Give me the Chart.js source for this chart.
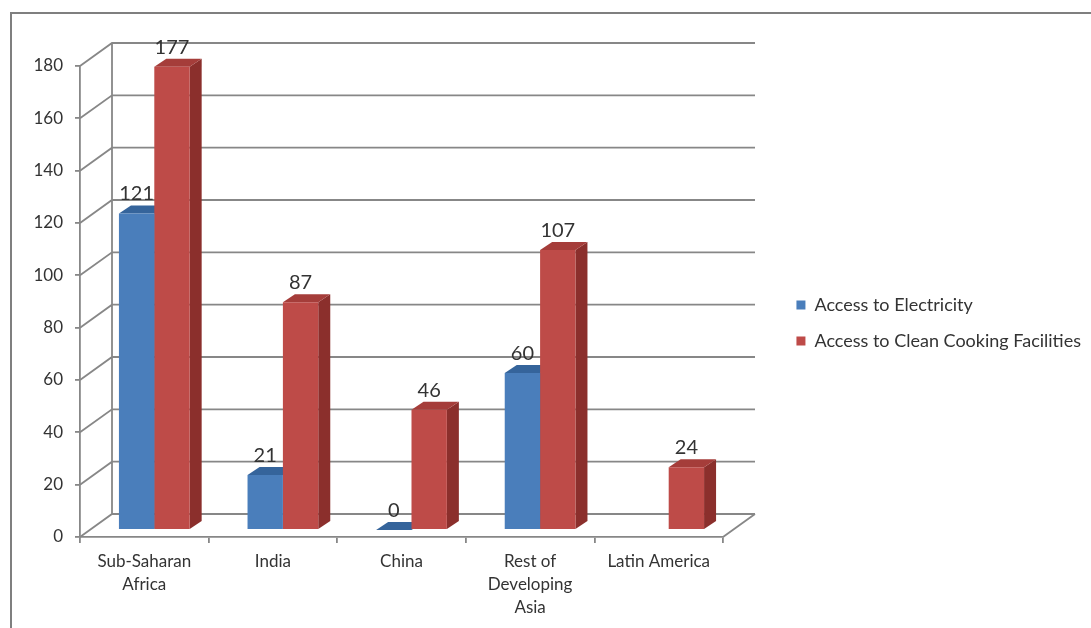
<!DOCTYPE html>
<html>
<head>
<meta charset="utf-8">
<script src="https://cdn.jsdelivr.net/npm/chart.js@4.4.1/dist/chart.umd.min.js"></script>
<style>
  html, body { margin: 0; padding: 0; background: #fff; }
  #wrap { width: 1091px; height: 628px; }
</style>
</head>
<body>
<div id="wrap"><canvas id="chart"></canvas></div>
<script>
// Data
const categories = [["Sub-Saharan", "Africa"], "India", "China", ["Rest of", "Developing", "Asia"], "Latin America"];
const electricity = [121, 21, 0, 60, null];
const cooking = [177, 87, 46, 107, 24];
const yMin = 0;
const yMax = 180;
const yStep = 20;

// 3d look
const WALL = { dx: 32, dy: -23 };
const BAR = { dx: 10, dy: -7, depthX: 12, depthY: -8 };
const gridColor = "#878787";
const textColor = "#333";
const font = "Lato";

const threeD = {
  id: "threeD",
  beforeDraw(chart) {
    const ctx = chart.ctx;
    ctx.save();
    ctx.fillStyle = "#fff";
    ctx.fillRect(0, 0, chart.width, chart.height);
    ctx.strokeStyle = "#7f7f7f";
    ctx.lineWidth = 2;
    ctx.beginPath();
    ctx.moveTo(11, chart.height);
    ctx.lineTo(11, 13);
    ctx.lineTo(chart.width, 13);
    ctx.stroke();
    ctx.restore();
  },
  beforeDatasetsDraw(chart) {
    const { ctx, chartArea: a } = chart;
    const y = chart.scales.y;
    ctx.save();
    ctx.strokeStyle = gridColor;
    ctx.lineWidth = 1.8;
    ctx.beginPath();
    y.ticks.forEach((t) => {
      const py = y.getPixelForValue(t.value);
      ctx.moveTo(a.left, py);
      ctx.lineTo(a.left + WALL.dx, py + WALL.dy);
      ctx.lineTo(a.right + WALL.dx, py + WALL.dy);
    });
    ctx.moveTo(a.left + WALL.dx, a.top + WALL.dy);
    ctx.lineTo(a.left + WALL.dx, a.bottom + WALL.dy);
    ctx.moveTo(a.right, a.bottom);
    ctx.lineTo(a.right + WALL.dx, a.bottom + WALL.dy);
    ctx.stroke();
    ctx.restore();

    // bars sit a bit back from the front plane
    ctx.save();
    ctx.translate(BAR.dx, BAR.dy);
    chart.data.datasets.forEach((ds, i) => {
      chart.getDatasetMeta(i).data.forEach((bar, j) => {
        if (ds.data[j] == null) return;
        const { x, y: top, base, width } = bar.getProps(["x", "y", "base", "width"], true);
        const l = x - width / 2;
        const r = x + width / 2;
        ctx.fillStyle = ds.sideColor;
        ctx.beginPath();
        ctx.moveTo(r, top);
        ctx.lineTo(r + BAR.depthX, top + BAR.depthY);
        ctx.lineTo(r + BAR.depthX, base + BAR.depthY);
        ctx.lineTo(r, base);
        ctx.closePath();
        ctx.fill();
        ctx.fillStyle = ds.topColor;
        ctx.beginPath();
        ctx.moveTo(l, top);
        ctx.lineTo(l + BAR.depthX, top + BAR.depthY);
        ctx.lineTo(r + BAR.depthX, top + BAR.depthY);
        ctx.lineTo(r, top);
        ctx.closePath();
        ctx.fill();
      });
    });
  },
  afterDatasetsDraw(chart) {
    const ctx = chart.ctx;
    ctx.font = `20px ${font}`;
    ctx.fillStyle = textColor;
    ctx.textAlign = "center";
    ctx.textBaseline = "alphabetic";
    chart.data.datasets.forEach((ds, i) => {
      chart.getDatasetMeta(i).data.forEach((bar, j) => {
        if (ds.data[j] == null) return;
        ctx.fillText(String(ds.data[j]), bar.x, bar.y - 13);
      });
    });
    ctx.restore();
  },
};

new Chart(document.getElementById("chart"), {
  type: "bar",
  data: {
    labels: categories,
    datasets: [
      {
        label: "Access to Electricity",
        data: electricity,
        backgroundColor: "#4a7ebb",
        sideColor: "#2f5a8c",
        topColor: "#35649b",
        clip: false,
      },
      {
        label: "Access to Clean Cooking Facilities",
        data: cooking,
        backgroundColor: "#be4b48",
        sideColor: "#8b2f2c",
        topColor: "#a53d3a",
        clip: false,
      },
    ],
  },
  options: {
    responsive: true,
    maintainAspectRatio: false,
    animation: false,
    layout: { padding: { top: 18, right: 0, bottom: 0, left: 0 } },
    datasets: { bar: { barPercentage: 1, categoryPercentage: 0.55 } },
    plugins: {
      tooltip: { enabled: false },
      legend: {
        position: "right",
        align: "center",
        maxWidth: 420,
        labels: {
          boxWidth: 9,
          boxHeight: 9,
          padding: 18,
          color: textColor,
          font: { family: font, size: 18 },
        },
      },
    },
    scales: {
      x: {
        offset: true,
        grid: { drawOnChartArea: false, tickLength: 6, color: gridColor, lineWidth: 1.8 },
        border: { display: true, color: gridColor, width: 1.8 },
        ticks: { color: textColor, padding: 7, maxRotation: 0, autoSkip: false, font: { family: font, size: 17, lineHeight: 1.35 } },
        afterFit: (s) => { s.height = 91; },
      },
      y: {
        min: yMin,
        max: yMax,
        grid: { drawOnChartArea: false, tickLength: 5, color: gridColor, lineWidth: 1.8 },
        border: { display: true, color: gridColor, width: 1.8 },
        ticks: { stepSize: yStep, color: textColor, padding: 12, font: { family: font, size: 17 } },
        afterFit: (s) => { s.width = 80; },
      },
      padTop: {
        type: "linear",
        position: "top",
        display: true,
        grid: { display: false },
        border: { display: false },
        ticks: { display: false },
        afterFit: (s) => { s.height = 48; },
      },
      padRight: {
        type: "linear",
        position: "right",
        display: true,
        grid: { display: false },
        border: { display: false },
        ticks: { display: false },
        afterFit: (s) => { s.width = Math.max(0, s.chart.width - s.chart.legend.width - 723); },
      },
    },
  },
  plugins: [threeD],
});
</script>
</body>
</html>
